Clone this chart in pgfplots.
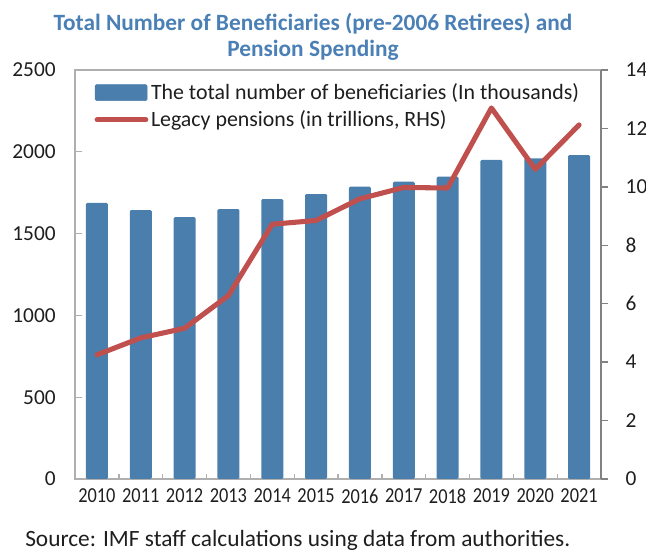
\documentclass[border=0pt]{standalone}
\usepackage{pgfplots}
\pgfplotsset{compat=1.18}
\usepackage{fontspec}
\setmainfont{Carlito}
\usepackage{graphicx}
\definecolor{barblue}{RGB}{74,126,173}
\definecolor{linered}{RGB}{192,80,77}
\definecolor{ttlblue}{RGB}{75,128,182}
\definecolor{axgray}{RGB}{175,175,175}
\definecolor{axdark}{RGB}{130,130,130}
\definecolor{txt}{RGB}{30,30,30}
\newcommand{\sq}[1]{\scalebox{0.86}[1]{#1}}

\begin{document}
\begin{tikzpicture}
\useasboundingbox (0,0) rectangle (484.5pt,414pt);
\begin{axis}[
  at={(56.25pt,54.75pt)}, anchor=south west,
  scale only axis, width=394.5pt, height=306.75pt,
  xmin=-0.5, xmax=11.5, ymin=0, ymax=2500,
  ytick={0,500,...,2500}, ytick pos=left,
  xtick={0,...,11}, major x tick style={draw=none},
  minor xtick={0.5,1.5,...,10.5},
  xticklabels={\sq{2010},\sq{2011},\sq{2012},\sq{2013},\sq{2014},\sq{2015},\sq{2016},\sq{2017},\sq{2018},\sq{2019},\sq{2020},\sq{2021}},
  tick align=inside, xtick pos=bottom,
  major tick length=5pt, minor tick length=4pt,
  every tick/.style={axgray, line width=1pt},
  axis line style={axgray, line width=1.3pt},
  ticklabel style={font=\fontsize{16}{18}\selectfont, text=txt},
  yticklabel style={xshift=-11pt},
  xticklabel style={yshift=-4pt},
  /pgf/number format/assume math mode=true,
  /pgf/number format/1000 sep={},
]
\addplot[ybar, bar width=16.5pt, fill=barblue, draw=none, rounded corners=1pt]
coordinates {(0,1688) (1,1644) (2,1600) (3,1650) (4,1711) (5,1742) (6,1787) (7,1817) (8,1848) (9,1950) (10,1960) (11,1980)};
\end{axis}
\begin{axis}[
  at={(56.25pt,54.75pt)}, anchor=south west,
  scale only axis, width=394.5pt, height=306.75pt,
  xmin=-0.5, xmax=11.5, ymin=0, ymax=14,
  ytick={0,2,...,14},
  axis x line=none, axis y line*=right,
  y axis line style={axdark, line width=1.3pt, -},
  every tick/.style={axdark, line width=1pt},
  tick align=outside, major tick length=5pt,
  ticklabel style={font=\fontsize{16}{18}\selectfont, text=txt},
  yticklabel style={xshift=10pt},
  /pgf/number format/assume math mode=true,
  legend style={at={(0,1)}, anchor=north west, xshift=14.5pt, yshift=-8pt, draw=none, fill=none,
    font=\fontsize{16.4}{18}\selectfont, text=txt, row sep=3pt, inner sep=0pt,
    /tikz/every even column/.append style={column sep=3pt}},
  legend cell align=left,
]
\addlegendimage{legend image code/.code={\fill[barblue, rounded corners=1pt] (0pt,-6pt) rectangle (39pt,6pt);}}
\addlegendentry{The total number of beneficiaries (In thousands)}
\addplot[linered, line width=3.8pt, line join=round, line cap=round,
  legend image code/.code={\draw[linered, line width=3.8pt, line cap=round] (1.5pt,0pt) -- (38pt,0pt);}]
coordinates {(0,4.25) (1,4.83) (2,5.16) (3,6.28) (4,8.72) (5,8.85) (6,9.59) (7,9.98) (8,9.96) (9,12.70) (10,10.60) (11,12.12)};
\addlegendentry{Legacy pensions (in trillions, RHS)}
\end{axis}
\node[font=\fontsize{17.5}{20}\bfseries, text=ttlblue] at (234.75pt,396.5pt) {Total Number of Beneficiaries (pre-2006 Retirees) and};
\node[font=\fontsize{17.5}{20}\bfseries, text=ttlblue] at (234.75pt,376.5pt) {Pension Spending};
\node[font=\fontsize{17.5}{20}\selectfont, text=txt, anchor=west, inner sep=0pt] at (18.75pt,8.5pt) {Source: IMF staff calculations using data from authorities.};
\end{tikzpicture}
\end{document}
